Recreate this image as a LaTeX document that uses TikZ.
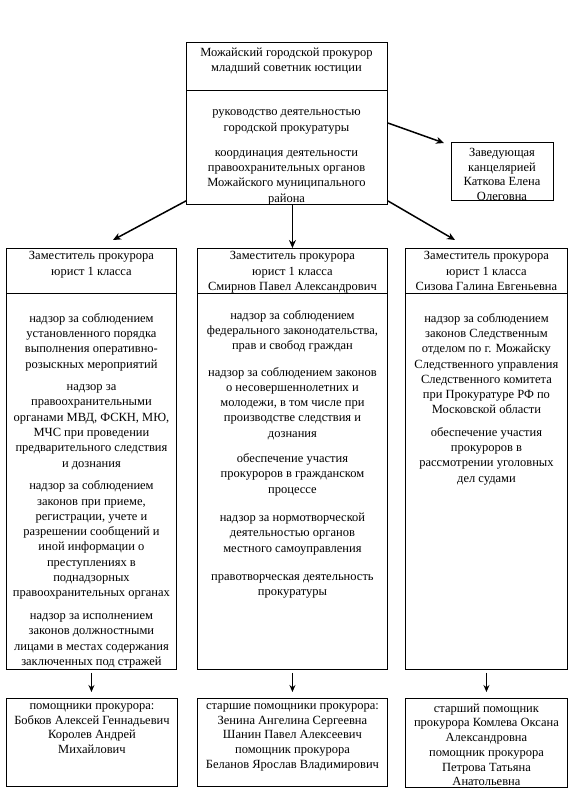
\documentclass[tikz,border=0pt]{standalone}
\usepackage{fontspec}
\setmainfont{Liberation Serif}
\usetikzlibrary{arrows.meta}
\begin{document}
\begin{tikzpicture}[x=1pt,y=-1pt,
  box/.style={draw, line width=0.9pt, inner sep=0pt, anchor=north west},
  txt/.style={align=center, inner sep=0pt, anchor=north, font=\fontsize{12.5}{15.3}\selectfont},
  tighttxt/.style={txt, font=\fontsize{12.5}{14.7}\selectfont},
  divider/.style={line width=0.8pt},
  arr/.style={line width=1.5pt, -{Stealth[length=8pt,width=7pt]}},
  arrs/.style={line width=1.4pt, -{Stealth[length=7pt,width=6pt]}, shorten <=3pt, shorten >=6pt},
]
\useasboundingbox[fill=white] (0,0) rectangle (579,803);

% top box
\node[box, minimum width=201pt, minimum height=162pt] (top) at (186,42) {};
\draw[divider] (top.west |- 0,90) -- (top.east |- 0,90);
\node[txt] (toptitle) at (286.5,47.7) {Можайский городской прокурор\\младший советник юстиции};
\node[txt] (topbody) at (286.5,109.7) {руководство деятельностью\\городской прокуратуры\\[10pt]координация деятельности\\правоохранительных органов\\Можайского муниципального\\района};

% office head box
\node[box, minimum width=102pt, minimum height=58pt] (office) at (451,142) {};
\node[txt, font=\fontsize{12.5}{14.5}\selectfont] (officetxt) at (502,148.2) {Заведующая\\канцелярией\\Каткова Елена\\Олеговна};

% columns
\node[box, minimum width=170pt, minimum height=421pt] (colA) at (6,248) {};
\node[box, minimum width=190pt, minimum height=421pt] (colB) at (197,248) {};
\node[box, minimum width=162pt, minimum height=421pt] (colC) at (405,248) {};
\draw[divider] (colA.west |- 0,293) -- (colA.east |- 0,293);
\draw[divider] (colB.west |- 0,293) -- (colB.east |- 0,293);
\draw[divider] (colC.west |- 0,293) -- (colC.east |- 0,293);

\node[txt] (headA) at (colA.north |- 0,251.5) {Заместитель прокурора\\юрист 1 класса};
\node[txt] (headB) at (colB.north |- 0,251.5) {Заместитель прокурора\\юрист 1 класса\\Смирнов Павел Александрович};
\node[txt] (headC) at (colC.north |- 0,251.5) {Заместитель прокурора\\юрист 1 класса\\Сизова Галина Евгеньевна};

\node[txt] (bodyA) at (colA.north |- 0,313) {надзор за соблюдением\\установленного порядка\\выполнения оперативно-\\розыскных мероприятий\\[7.3pt]надзор за\\правоохранительными\\органами МВД, ФСКН, МЮ,\\МЧС при проведении\\предварительного следствия\\и дознания\\[7.3pt]надзор за соблюдением\\законов при приеме,\\регистрации, учете и\\разрешении сообщений и\\иной информации о\\преступлениях в\\поднадзорных\\правоохранительных органах\\[7.3pt]надзор за исполнением\\законов должностными\\лицами в местах содержания\\заключенных под стражей};

\node[txt] (bodyB) at (colB.north |- 0,310) {надзор за соблюдением\\федерального законодательства,\\прав и свобод граждан\\[11pt]надзор за соблюдением законов\\о несовершеннолетних и\\молодежи, в том числе при\\производстве следствия и\\дознания\\[10pt]обеспечение участия\\прокуроров в гражданском\\процессе\\[13pt]надзор за нормотворческой\\деятельностью органов\\местного самоуправления\\[13pt]правотворческая деятельность\\прокуратуры};

\node[txt] (bodyC) at (colC.north |- 0,313) {надзор за соблюдением\\законов Следственным\\отделом по г. Можайску\\Следственного управления\\Следственного комитета\\при Прокуратуре РФ по\\Московской области\\[7pt]обеспечение участия\\прокуроров в\\рассмотрении уголовных\\дел судами};

% bottom boxes
\node[box, minimum width=171pt, minimum height=88pt] (botA) at (6,698) {};
\node[box, minimum width=190pt, minimum height=88pt] (botB) at (197,698) {};
\node[box, minimum width=162pt, minimum height=89pt] (botC) at (405,698) {};
\node[tighttxt] (botAtxt) at (botA.north |- 0,703.5) {помощники прокурора:\\Бобков Алексей Геннадьевич\\Королев Андрей\\Михайлович};
\node[tighttxt] (botBtxt) at (botB.north |- 0,703.5) {старшие помощники прокурора:\\Зенина Ангелина Сергеевна\\Шанин Павел Алексеевич\\помощник прокурора\\Беланов Ярослав Владимирович};
\node[tighttxt] (botCtxt) at (botC.north |- 0,703.5) {старший помощник\\прокурора Комлева Оксана\\Александровна\\помощник прокурора\\Петрова Татьяна\\Анатольевна};

% connectors
\coordinate (tipL) at (113,240);
\coordinate (tipR) at (455,240);
\coordinate (tipO) at (444,143);
\draw[arr] ([yshift=4pt]top.south west) -- (tipL);
\draw[arr] ([yshift=4pt]top.south east) -- (tipR);
\draw[arr] (top.south -| colB.north) -- (colB.north);
\draw[arr] (top.east |- 0,123) -- (tipO);
\draw[arrs] (colA.south) -- (colA.south |- botA.north);
\draw[arrs] (colB.south) -- (colB.south |- botB.north);
\draw[arrs] (colC.south) -- (colC.south |- botC.north);
\end{tikzpicture}
\end{document}
